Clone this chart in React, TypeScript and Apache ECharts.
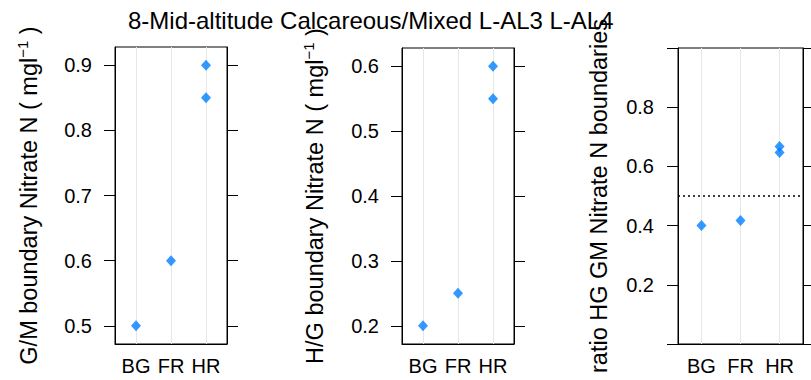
import React, { useEffect, useRef } from "react";
import * as echarts from "echarts";

// ---- data ----
const title = "8-Mid-altitude Calcareous/Mixed L-AL3 L-AL4";
const categories = ["BG", "FR", "HR"];
const pointCategory = ["BG", "FR", "HR", "HR"];
const gmBoundary = [0.5, 0.6, 0.9, 0.85];
const hgBoundary = [0.2, 0.25, 0.6, 0.55];
const hgGmRatio = [0.4, 0.417, 0.667, 0.647];
const gmTicks = [0.5, 0.6, 0.7, 0.8, 0.9];
const hgTicks = [0.2, 0.3, 0.4, 0.5, 0.6];
const ratioTicks = [0, 0.2, 0.4, 0.6, 0.8, 1.0];
const ratioTickLabels = [0.2, 0.4, 0.6, 0.8];
const ratioReference = 0.5;
const categoryPositions = [1, 2, 3];

const FONT = "'Liberation Sans', Arial, Helvetica, sans-serif";
const BLUE = "#0080ff";

type Panel = {
  values: number[];
  yMin: number;
  yMax: number;
  ticks: number[];
  labels: number[];
  name: string;
  nameGap: number;
  labelMargin: number;
  grid: { left: number; top: number; width: number; height: number };
  ref?: number;
};

const panels: Panel[] = [
  {
    values: gmBoundary,
    yMin: 0.472,
    yMax: 0.928,
    ticks: gmTicks,
    labels: gmTicks,
    name: "{t|G/M boundary Nitrate N ( mgl}{s|−1}{t| )}",
    nameGap: 73,
    labelMargin: 23,
    grid: { left: 115, top: 47, width: 112, height: 297 },
  },
  {
    values: hgBoundary,
    yMin: 0.172,
    yMax: 0.628,
    ticks: hgTicks,
    labels: hgTicks,
    name: "{t|H/G boundary Nitrate N ( mgl}{s|−1}{t| )}",
    nameGap: 74,
    labelMargin: 23,
    grid: { left: 402, top: 48, width: 112, height: 296 },
  },
  {
    values: hgGmRatio,
    yMin: 0,
    yMax: 1,
    ticks: ratioTicks,
    labels: ratioTickLabels,
    name: "{t|ratio HG GM Nitrate N boundaries}",
    nameGap: 66,
    labelMargin: 24,
    grid: { left: 678, top: 48, width: 125, height: 296 },
    ref: ratioReference,
  },
];

const nameRich = {
  t: { fontSize: 23.5, fontFamily: FONT, color: "#000", lineHeight: 27 },
  s: { fontSize: 15, fontFamily: FONT, color: "#000", lineHeight: 15, verticalAlign: "top" },
};

function buildOption() {
  const grid: any[] = [];
  const xAxis: any[] = [];
  const yAxis: any[] = [];
  const series: any[] = [];

  panels.forEach((p, i) => {
    grid.push({
      ...p.grid,
      show: true,
      borderColor: "#000",
      borderWidth: 1,
      backgroundColor: "transparent",
    });
    xAxis.push({
      type: "value",
      gridIndex: i,
      min: 0.4,
      max: 3.6,
      position: "bottom",
      axisLine: { show: true, lineStyle: { color: "#000", width: 1 } },
      axisTick: { show: false, customValues: categoryPositions },
      splitLine: { show: false },
      axisLabel: {
        customValues: categoryPositions,
        formatter: (v: number) => categories[Math.round(v) - 1] ?? "",
        fontSize: 20,
        fontFamily: FONT,
        color: "#000",
        margin: 12,
        lineHeight: 20,
      },
    });
    const yCommon = {
      type: "value",
      gridIndex: i,
      min: p.yMin,
      max: p.yMax,
      splitLine: { show: false },
      axisLine: { show: true, onZero: false, lineStyle: { color: "#000", width: 1 } },
      axisTick: {
        show: true,
        inside: false,
        length: 11,
        customValues: p.ticks,
        lineStyle: { color: "#000", width: 1 },
      },
    };
    yAxis.push({
      ...yCommon,
      position: "left",
      name: p.name,
      nameLocation: "middle",
      nameRotate: 90,
      nameGap: p.nameGap,
      nameTextStyle: { rich: nameRich },
      axisLabel: {
        customValues: p.labels,
        formatter: (v: number) => v.toFixed(1),
        fontSize: 20,
        fontFamily: FONT,
        color: "#000",
        margin: p.labelMargin,
      },
    });
    yAxis.push({
      ...yCommon,
      position: "right",
      axisLabel: { show: false },
    });

    const markData: any[] = categoryPositions.map((x) => ({
      xAxis: x,
      lineStyle: { color: "#e6e6e6", width: 1, type: "solid" },
    }));
    if (p.ref !== undefined) {
      markData.push({
        yAxis: p.ref,
        lineStyle: { color: "#000", width: 1.5, type: [2, 3] },
      });
    }

    series.push({
      type: "scatter",
      xAxisIndex: i,
      yAxisIndex: i * 2,
      z: 3,
      symbol: "diamond",
      symbolSize: [10, 11],
      itemStyle: { color: BLUE },
      emphasis: { disabled: true },
      data: pointCategory.map((c, k) => [categories.indexOf(c) + 1, p.values[k]]),
      markLine: {
        silent: true,
        z: 1,
        symbol: ["none", "none"],
        label: { show: false },
        emphasis: { disabled: true },
        animation: false,
        data: markData,
      },
    });
  });

  return {
    animation: false,
    backgroundColor: "#fff",
    title: {
      text: title,
      left: 128,
      top: 8.6,
      padding: 0,
      textStyle: {
        fontSize: 24,
        fontWeight: "normal",
        fontFamily: FONT,
        color: "#000",
        lineHeight: 24,
      },
    },
    grid,
    xAxis,
    yAxis,
    series,
  };
}

export default function App() {
  const ref = useRef<HTMLDivElement>(null);
  useEffect(() => {
    if (!ref.current) return;
    const chart = echarts.init(ref.current, null, { renderer: "svg" });
    chart.setOption(buildOption() as any);
    return () => chart.dispose();
  }, []);
  return (
    <div
      ref={ref}
      style={{ position: "absolute", left: 0, top: 0, width: 811, height: 380, background: "#fff" }}
    />
  );
}
